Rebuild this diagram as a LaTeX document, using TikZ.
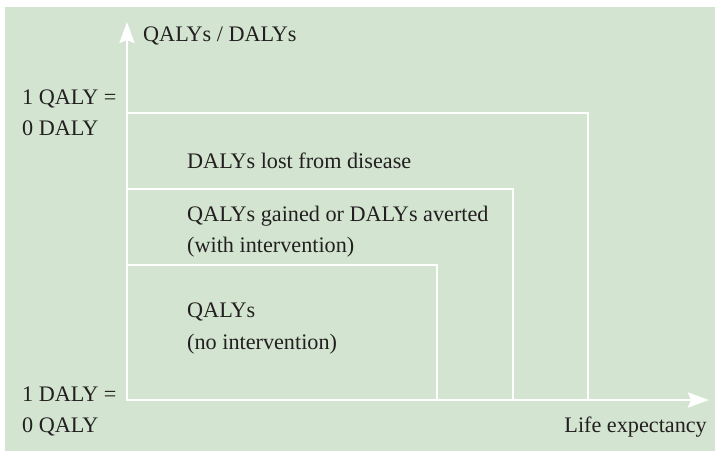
\documentclass[tikz,border=0pt]{standalone}
\usepackage{fontspec}
\setmainfont{Liberation Serif}
\usepackage{xcolor}
\usetikzlibrary{arrows.meta}
\definecolor{bggreen}{HTML}{D3E5D1}
\definecolor{ink}{HTML}{231F20}

\begin{document}
\begin{tikzpicture}[x=1pt, y=-1pt, >={Stealth[length=21pt, width=15pt, inset=3pt]},
  w/.style={draw=white, line width=2.8pt},
  t/.style={anchor=base west, inner sep=0pt, text=ink, font=\fontsize{22.2}{32}\selectfont}]
  \useasboundingbox (0,0) rectangle (715,451);
  \fill[bggreen] (5,7) rectangle (715,451);
  % axes
  \coordinate (o) at (127,400);
  \coordinate (ytip) at (127,22);
  \coordinate (xtip) at (709,400);
  % levels and ends
  \coordinate (q1) at (127,113);  \coordinate (e1) at (588,400);
  \coordinate (q2) at (127,189);  \coordinate (e2) at (513,400);
  \coordinate (q3) at (127,265);  \coordinate (e3) at (437,400);
  \draw[w] (q1) -| (e1);
  \draw[w] (q2) -| (e2);
  \draw[w] (q3) -| (e3);
  \draw[w, <->] (ytip) -- (o) -- (xtip);
  % labels
  \node[t] (ylab) at (143,41) {QALYs / DALYs};
  \node[t] (top1) at (22,104) {1 QALY =};
  \node[t] (top2) at (22,135) {0 DALY};
  \node[t] (bot1) at (22,401) {1 DALY =};
  \node[t] (bot2) at (22,432) {0 QALY};
  \node[t, anchor=base east] (xlab) at (707,432) {Life expectancy};
  \node[t] (lost) at (187,168) {DALYs lost from disease};
  \node[t] (gain1) at (187,221) {QALYs gained or DALYs averted};
  \node[t] (gain2) at (187,252) {(with intervention)};
  \node[t] (none1) at (187,317) {QALYs};
  \node[t] (none2) at (187,349) {(no intervention)};
\end{tikzpicture}
\end{document}
